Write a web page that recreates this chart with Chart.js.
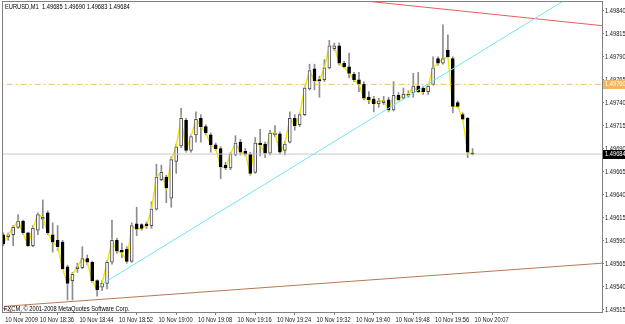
<!DOCTYPE html>
<html>
<head>
<meta charset="utf-8">
<script src="https://cdn.jsdelivr.net/npm/chart.js@4.4.0/dist/chart.umd.min.js"></script>
<style>
  html, body { margin: 0; padding: 0; background: #fff; }
  #chart { display: block; }
</style>
</head>
<body>
<canvas id="chart" width="625" height="324"></canvas>
<script>
// EURUSD M1, 10 Nov 2009, 18:28 - 20:07
var symbol = 'EURUSD,M1';

var opens = [1.49596, 1.49594, 1.49596, 1.49604, 1.49611, 1.49598, 1.49584, 1.49601, 1.49613, 1.49620,
    1.49596, 1.49590, 1.49588, 1.49561, 1.49546, 1.49559, 1.49560, 1.49570, 1.49566, 1.49546,
    1.49539, 1.49543, 1.49566, 1.49590, 1.49579, 1.49580, 1.49567, 1.49608, 1.49607, 1.49608,
    1.49606, 1.49624, 1.49656, 1.49659, 1.49636, 1.49676, 1.49693, 1.49721, 1.49688, 1.49705,
    1.49723, 1.49714, 1.49705, 1.49694, 1.49690, 1.49672, 1.49669, 1.49683, 1.49697, 1.49687,
    1.49684, 1.49664, 1.49696, 1.49695, 1.49685, 1.49705, 1.49706, 1.49688, 1.49697, 1.49723,
    1.49716, 1.49727, 1.49755, 1.49777, 1.49765, 1.49765, 1.49778, 1.49799, 1.49802, 1.49783,
    1.49779, 1.49771, 1.49765, 1.49760, 1.49746, 1.49744, 1.49739, 1.49740, 1.49743, 1.49732,
    1.49748, 1.49745, 1.49747, 1.49751, 1.49758, 1.49756, 1.49752, 1.49760, 1.49788, 1.49783,
    1.49797, 1.49788, 1.49740, 1.49727, 1.49723, 1.49685];

var highs = [1.49598, 1.49598, 1.49606, 1.49618, 1.49612, 1.49599, 1.49606, 1.49620, 1.49634, 1.49622,
    1.49609, 1.49606, 1.49590, 1.49563, 1.49555, 1.49565, 1.49583, 1.49574, 1.49567, 1.49547,
    1.49546, 1.49568, 1.49612, 1.49592, 1.49587, 1.49583, 1.49609, 1.49626, 1.49608, 1.49610,
    1.49632, 1.49673, 1.49672, 1.49661, 1.49681, 1.49695, 1.49734, 1.49723, 1.49705, 1.49730,
    1.49727, 1.49716, 1.49707, 1.49696, 1.49692, 1.49675, 1.49686, 1.49704, 1.49700, 1.49690,
    1.49686, 1.49702, 1.49711, 1.49697, 1.49710, 1.49715, 1.49708, 1.49698, 1.49730, 1.49727,
    1.49729, 1.49758, 1.49782, 1.49782, 1.49769, 1.49787, 1.49808, 1.49805, 1.49805, 1.49785,
    1.49794, 1.49773, 1.49773, 1.49763, 1.49752, 1.49747, 1.49745, 1.49747, 1.49746, 1.49763,
    1.49751, 1.49756, 1.49753, 1.49772, 1.49773, 1.49758, 1.49760, 1.49790, 1.49790, 1.49825,
    1.49814, 1.49790, 1.49742, 1.49729, 1.49724, 1.49690];

var lows = [1.49584, 1.49590, 1.49584, 1.49603, 1.49596, 1.49583, 1.49583, 1.49596, 1.49603, 1.49596,
    1.49577, 1.49579, 1.49558, 1.49525, 1.49525, 1.49555, 1.49559, 1.49563, 1.49544, 1.49529,
    1.49535, 1.49537, 1.49564, 1.49576, 1.49571, 1.49565, 1.49566, 1.49595, 1.49601, 1.49603,
    1.49603, 1.49623, 1.49655, 1.49631, 1.49626, 1.49663, 1.49691, 1.49686, 1.49686, 1.49697,
    1.49697, 1.49705, 1.49686, 1.49688, 1.49657, 1.49667, 1.49667, 1.49682, 1.49683, 1.49682,
    1.49661, 1.49663, 1.49682, 1.49680, 1.49683, 1.49703, 1.49684, 1.49683, 1.49696, 1.49710,
    1.49714, 1.49726, 1.49754, 1.49754, 1.49746, 1.49763, 1.49777, 1.49797, 1.49781, 1.49778,
    1.49767, 1.49763, 1.49752, 1.49743, 1.49739, 1.49730, 1.49735, 1.49738, 1.49730, 1.49731,
    1.49742, 1.49744, 1.49746, 1.49746, 1.49751, 1.49749, 1.49749, 1.49759, 1.49781, 1.49782,
    1.49790, 1.49729, 1.49735, 1.49721, 1.49680, 1.49683];

var closes = [1.49586, 1.49596, 1.49604, 1.49611, 1.49598, 1.49584, 1.49603, 1.49618, 1.49615, 1.49598,
    1.49588, 1.49583, 1.49559, 1.49543, 1.49553, 1.49561, 1.49570, 1.49566, 1.49546, 1.49536,
    1.49543, 1.49566, 1.49590, 1.49578, 1.49577, 1.49567, 1.49606, 1.49602, 1.49603, 1.49606,
    1.49624, 1.49659, 1.49664, 1.49647, 1.49678, 1.49692, 1.49723, 1.49688, 1.49703, 1.49722,
    1.49714, 1.49707, 1.49694, 1.49690, 1.49670, 1.49669, 1.49684, 1.49696, 1.49686, 1.49684,
    1.49663, 1.49696, 1.49694, 1.49685, 1.49707, 1.49707, 1.49686, 1.49695, 1.49723, 1.49715,
    1.49727, 1.49756, 1.49775, 1.49764, 1.49764, 1.49778, 1.49802, 1.49802, 1.49783, 1.49779,
    1.49772, 1.49765, 1.49760, 1.49745, 1.49743, 1.49739, 1.49742, 1.49742, 1.49732, 1.49748,
    1.49743, 1.49749, 1.49749, 1.49758, 1.49752, 1.49752, 1.49758, 1.49778, 1.49783, 1.49788,
    1.49790, 1.49736, 1.49736, 1.49722, 1.49686, 1.49684];

// price axis labels
var priceTicks = [1.49515, 1.49540, 1.49565, 1.49590, 1.49615, 1.49640, 1.49665,
    1.49690, 1.49715, 1.49740, 1.49765, 1.49790, 1.49815, 1.49840];

// time axis labels and the bar they belong to
var timeLabels = ['10 Nov 2009', '10 Nov 18:36', '10 Nov 18:44', '10 Nov 18:52', '10 Nov 19:00',
    '10 Nov 19:08', '10 Nov 19:16', '10 Nov 19:24', '10 Nov 19:32', '10 Nov 19:40',
    '10 Nov 19:48', '10 Nov 19:56', '10 Nov 20:07'];
var timeTickBars = [0, 7, 15, 23, 31, 39, 47, 55, 63, 71, 79, 87, 95];

// objects drawn on the chart (bar index, price)
var levelPrice = 1.49760;
var cyanTrend = [[19.6, 1.49541], [113.7, 1.49852]];
var redTrend = [[73.1, 1.49851], [121.2, 1.49824]];
var redStub = [[-0.1, 1.49516], [2.0, 1.49511]];
var brownTrend = [[0.3, 1.49518], [121.2, 1.49565]];

var FONT = "7px 'Liberation Sans', Arial, sans-serif";
var NARROW = 0.82;   // MetaTrader labels are narrower than Arial
var last = closes.length - 1;
var bidPrice = closes[last];

function toPoints(pairs) {
    return pairs.map(function(p) { return {x: p[0], y: p[1]}; });
}

function narrowText(ctx, text, x, y) {
    ctx.save();
    ctx.translate(x, y);
    ctx.scale(NARROW, 1);
    ctx.fillText(text, 0, 0);
    ctx.restore();
}

var wickData = [], bodyData = [], closeData = [], bodyFill = [], bodyBorder = [];
for (var i = 0; i < opens.length; i++) {
    wickData.push({x: i, y: [lows[i], highs[i]]});
    bodyData.push({x: i, y: [opens[i], closes[i]]});
    closeData.push({x: i, y: closes[i]});
    var up = closes[i] >= opens[i];
    bodyFill.push(up ? '#ffffff' : '#000000');
    bodyBorder.push(up ? '#505050' : '#000000');
}

// frame, axis labels, price markers and corner texts in MetaTrader style
var mtDecor = {
    id: 'mtDecor',
    afterDraw: function(chart) {
        var ctx = chart.ctx;
        var a = chart.chartArea;
        var xs = chart.scales.x;
        var ys = chart.scales.y;
        ctx.save();
        ctx.strokeStyle = '#808080';
        ctx.lineWidth = 1;
        ctx.strokeRect(a.left - 0.5, a.top - 0.5, a.right - a.left + 1, a.bottom - a.top + 1);

        ctx.font = FONT;
        ctx.textAlign = 'left';
        ctx.fillStyle = '#202020';
        ctx.textBaseline = 'middle';
        ys.ticks.forEach(function(t) {
            narrowText(ctx, t.value.toFixed(5), a.right + 3, ys.getPixelForValue(t.value) + 0.5);
        });
        ctx.textBaseline = 'alphabetic';
        xs.ticks.forEach(function(t, k) {
            narrowText(ctx, timeLabels[k], xs.getPixelForValue(t.value) + 2, a.bottom + 10);
        });

        ctx.textBaseline = 'middle';
        var marks = [[levelPrice, '#f2b45c', '#ffffff'], [bidPrice, '#000000', '#ffffff']];
        marks.forEach(function(m) {
            var py = Math.round(ys.getPixelForValue(m[0]));
            ctx.fillStyle = m[1];
            ctx.fillRect(a.right + 1, py - 4, 22, 9);
            ctx.fillStyle = m[2];
            narrowText(ctx, m[0].toFixed(5), a.right + 3, py + 0.5);
        });

        ctx.fillStyle = '#000000';
        ctx.textBaseline = 'alphabetic';
        var head = symbol + '  ' + [opens[last], highs[last], lows[last], closes[last]].map(function(v) {
            return v.toFixed(5);
        }).join(' ');
        narrowText(ctx, head, a.left + 2, a.top + 7);
        narrowText(ctx, 'FXCM, \u00a9 2001-2008 MetaQuotes Software Corp.', a.left + 1, a.bottom - 1);
        ctx.restore();
    }
};

var ctx = document.getElementById('chart').getContext('2d');
var chart = new Chart(ctx, {
    type: 'bar',
    data: {
        datasets: [{
            type: 'bar',
            data: wickData,
            backgroundColor: '#8c8c8c',
            borderWidth: 0,
            barThickness: 1,
            grouped: false,
            order: 5
        }, {
            type: 'line',
            data: closeData,
            borderColor: '#f2e600',
            borderWidth: 1.4,
            pointRadius: 0,
            tension: 0,
            order: 4
        }, {
            type: 'bar',
            data: bodyData,
            backgroundColor: bodyFill,
            borderColor: bodyBorder,
            borderWidth: 1,
            borderSkipped: false,
            barThickness: 3,
            minBarLength: 1,
            grouped: false,
            order: 3
        }, {
            type: 'line',
            data: [{x: -5, y: bidPrice}, {x: 130, y: bidPrice}],
            borderColor: '#c8c8c8',
            borderWidth: 1,
            pointRadius: 0,
            order: 2
        }, {
            type: 'line',
            data: [{x: -5, y: levelPrice}, {x: 130, y: levelPrice}],
            borderColor: '#f4bc74',
            borderWidth: 1,
            borderDash: [6, 3, 2, 3],
            pointRadius: 0,
            order: 2
        }, {
            type: 'line',
            data: toPoints(cyanTrend),
            borderColor: '#6ee6f8',
            borderWidth: 1,
            pointRadius: 0,
            order: 1
        }, {
            type: 'line',
            data: toPoints(redTrend),
            borderColor: '#f05a5a',
            borderWidth: 1,
            pointRadius: 0,
            order: 1
        }, {
            type: 'line',
            data: toPoints(redStub),
            borderColor: '#f05a5a',
            borderWidth: 1,
            pointRadius: 0,
            order: 1
        }, {
            type: 'line',
            data: toPoints(brownTrend),
            borderColor: '#b47a55',
            borderWidth: 1,
            pointRadius: 0,
            order: 1
        }]
    },
    options: {
        responsive: false,
        animation: false,
        devicePixelRatio: 1,
        layout: { padding: { top: 2, left: 3, right: 0, bottom: 0 } },
        plugins: { legend: { display: false }, tooltip: { enabled: false } },
        scales: {
            x: {
                type: 'linear',
                offset: false,
                min: -0.06,
                max: 121.2,
                position: 'bottom',
                border: { display: false },
                grid: { drawOnChartArea: false, drawTicks: true, tickLength: 3, color: '#808080' },
                afterBuildTicks: function(scale) {
                    scale.ticks = timeTickBars.map(function(v) { return {value: v}; });
                },
                afterFit: function(scale) { scale.height = 12; },
                ticks: { display: false, autoSkip: false, maxRotation: 0 }
            },
            y: {
                type: 'linear',
                position: 'right',
                min: 1.495118,
                max: 1.498498,
                border: { display: false },
                grid: { drawOnChartArea: false, drawTicks: true, tickLength: 2, color: '#808080' },
                afterBuildTicks: function(scale) {
                    scale.ticks = priceTicks.map(function(v) { return {value: v}; });
                },
                afterFit: function(scale) { scale.width = 23; },
                ticks: { display: false }
            }
        }
    },
    plugins: [mtDecor]
});
</script>
</body>
</html>
